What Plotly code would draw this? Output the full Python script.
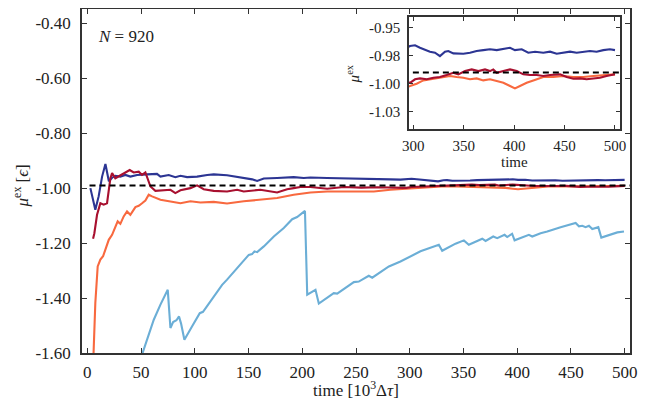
import plotly.graph_objects as go

# ---------------- data ----------------
blue_x = [2.8, 7.4, 10.5, 13.7, 16.8, 20.0, 23, 26, 30.7, 35.4, 40, 46.3, 55.5, 64.8, 68, 71, 75.7, 81.9, 86.6,
          92.8, 102.1, 111.5, 117.6, 130, 145.5, 153.4, 158, 164.2, 176.6, 192, 201.4, 207.6, 223.2, 238.6, 251,
          266.6, 282, 291.4,
          296.7, 301.7, 306.6, 311.6, 316.5, 321.5, 326.4, 331.4, 334.7, 339.7, 344.6, 349.6, 356.2, 362.8, 369.4,
          376, 382.7, 389.3, 395.9, 400.8, 407.5, 414, 420.7, 428.9, 435.6, 442.2, 448.8, 455.4, 462, 468.6, 475.2,
          481.8, 488.4, 495, 500]
blue_y = [-1.0, -1.079, -1.03, -0.958, -0.912, -0.975, -0.962, -0.955, -0.958, -0.952, -0.958, -0.952, -0.950,
          -0.948, -0.958, -0.955, -0.952, -0.960, -0.955, -0.960, -0.958, -0.952, -0.950, -0.953, -0.962, -0.968,
          -0.974, -0.965, -0.963, -0.960, -0.963, -0.961, -0.963, -0.965, -0.965, -0.966, -0.968, -0.969,
          -0.9663, -0.9657, -0.9679, -0.970, -0.9714, -0.9723, -0.9753, -0.9714, -0.9708, -0.9729, -0.9732, -0.9732,
          -0.9723, -0.9708, -0.970, -0.9693, -0.970, -0.9687, -0.9679, -0.970, -0.9693, -0.9723, -0.9714, -0.9723,
          -0.9714, -0.9732, -0.9723, -0.9714, -0.9723, -0.9714, -0.9708, -0.9714, -0.970, -0.9693, -0.970]

red_x = [5.3, 6.5, 9, 12.1, 15.2, 18.3, 21.4, 23, 26, 30.7, 35.4, 39.4, 43.1, 47.8, 50.9, 54, 58.7, 63.3, 69.6,
         77.3, 81.9, 86.6, 95.9, 102.1, 108.3, 117.6, 130, 139.4, 145.5, 161, 176.6, 185.9, 192, 198.3, 207.6,
         223.2, 238.6, 255, 270, 285,
         296.7, 301.7, 306.6, 313.3, 319.9, 326.4, 333, 339.7, 344.6, 351.3, 357.9, 364.5, 371.1, 376, 379.3,
         382.7, 389.3, 395.9, 402.5, 409.1, 415.7, 422.4, 428.9, 435.6, 445.5, 452.1, 458.7, 465.3, 471.9, 478.5,
         485.1, 491.7, 500]
red_y = [-1.184, -1.164, -1.097, -1.055, -1.06, -1.055, -0.964, -0.945, -0.964, -0.955, -0.943, -0.934, -0.943,
         -0.94, -0.952, -0.943, -0.994, -1.010, -1.008, -1.006, -1.018, -1.008, -1.0, -0.990, -1.004, -1.010,
         -1.012, -1.006, -1.012, -1.006, -1.016, -1.004, -1.0, -0.996, -0.996, -1.002, -0.996, -0.998, -0.997,
         -0.997,
         -0.9991, -0.996, -0.9952, -0.996, -0.9946, -0.994, -0.9922, -0.9902, -0.9916, -0.9887, -0.9872, -0.9887,
         -0.9872, -0.9887, -0.9872, -0.9902, -0.9887, -0.9872, -0.9887, -0.9916, -0.9922, -0.9922, -0.9931,
         -0.9922, -0.9916, -0.994, -0.9955, -0.9952, -0.996, -0.9952, -0.9946, -0.9931, -0.9916]

orange_x = [5.3, 7.4, 9.6, 12.1, 14.6, 16.8, 19.9, 23, 26.1, 28.2, 30.7, 33.8, 36.9, 40, 44.7, 47.8, 50.9, 54,
            57.1, 60.2, 68, 77.3, 86.6, 95.9, 105.2, 117.6, 130, 145.5, 161, 176.6, 192, 207.6, 223.2, 238.6, 251,
            266.6, 282,
            296.7, 303.3, 309.9, 316.5, 323.2, 329.8, 336.4, 343, 349.6, 356.2, 362.8, 369.4, 376, 382.7, 389.3,
            395.9, 400.8, 405.8, 412.4, 419, 428.9, 438.8, 448.8, 458.7, 468.6, 478.5, 488.4, 500]
orange_y = [-1.65, -1.418, -1.285, -1.26, -1.248, -1.224, -1.188, -1.17, -1.14, -1.121, -1.13, -1.103, -1.085,
            -1.097, -1.069, -1.064, -1.055, -1.045, -1.024, -1.03, -1.042, -1.048, -1.055, -1.048, -1.052, -1.050,
            -1.056, -1.048, -1.042, -1.036, -1.024, -1.016, -1.012, -1.012, -1.014, -1.012, -1.006,
            -1.002, -1.000, -0.997, -0.996, -0.9952, -0.994, -0.9931, -0.994, -0.9946, -0.996, -0.9952, -0.997,
            -0.996, -0.9976, -0.9991, -1.002, -1.0041, -1.002, -0.9991, -0.997, -0.994, -0.994, -0.9931, -0.994,
            -0.994, -0.9931, -0.9922, -0.9916]

light_x = [50.5, 55.5, 61.8, 68, 74.8, 77.3, 79.8, 82.9, 85.3, 87.2, 90.3, 97.5, 104.6, 107.6, 114.5, 125.4, 130,
           139.4, 150.2, 153.3, 155.5, 158, 164.2, 173.5, 182.8, 190.6, 195.2, 202.5, 204.6, 212.3, 215.4, 229.3,
           232.5, 248, 252.6, 261.9, 265.1, 280.6, 291.4, 310, 327.1, 330.2, 342.6, 350.4, 355, 367.5, 370.6, 377.7,
           381.4, 388.3, 390.7, 395.3, 397.6, 410.9, 414, 421.8, 428, 440.4, 449.7, 454.4, 457.5, 460.6, 463.7,
           466.8, 469.9, 475.5, 478.3, 488.5, 493.2, 499.4]
light_y = [-1.61, -1.552, -1.479, -1.424, -1.37, -1.509, -1.487, -1.481, -1.467, -1.493, -1.552, -1.503, -1.455,
           -1.45, -1.412, -1.352, -1.333, -1.291, -1.243, -1.24, -1.23, -1.233, -1.212, -1.176, -1.145, -1.113,
           -1.105, -1.083, -1.388, -1.37, -1.42, -1.382, -1.384, -1.342, -1.34, -1.319, -1.326, -1.285, -1.267,
           -1.23, -1.206, -1.228, -1.202, -1.19, -1.206, -1.184, -1.192, -1.176, -1.182, -1.17, -1.178, -1.166,
           -1.19, -1.17, -1.176, -1.164, -1.158, -1.142, -1.131, -1.127, -1.139, -1.137, -1.142, -1.137, -1.149,
           -1.142, -1.18, -1.166, -1.161, -1.158]

ref_x = [2, 510]
ref_y = [-0.99, -0.99]

main_xticks = [0, 50, 100, 150, 200, 250, 300, 350, 400, 450, 500]
main_yticks = [-0.4, -0.6, -0.8, -1.0, -1.2, -1.4, -1.6]
main_yticktext = ["-0.40", "-0.60", "-0.80", "-1.00", "-1.20", "-1.40", "-1.60"]
inset_xticks = [300, 350, 400, 450, 500]
inset_yticks = [-0.95, -0.975, -1.0, -1.025]
inset_yticktext = ["-0.95", "-0.98", "-1.00", "-1.03"]

C_BLUE = "#2c3593"
C_RED = "#a8102f"
C_ORANGE = "#f8693f"
C_LIGHT = "#6baed6"
FONT = "Liberation Serif"
AX = "#333333"

fig = go.Figure()
series = [(light_x, light_y, C_LIGHT), (orange_x, orange_y, C_ORANGE),
          (blue_x, blue_y, C_BLUE), (red_x, red_y, C_RED)]
for xa, ya in [("x", "y"), ("x2", "y2")]:
    for sx, sy, c in series:
        fig.add_trace(go.Scatter(x=sx, y=sy, mode="lines", line=dict(color=c, width=2.1),
                                 xaxis=xa, yaxis=ya, showlegend=False, hoverinfo="skip"))
    fig.add_trace(go.Scatter(x=ref_x, y=ref_y, mode="lines",
                             line=dict(color="black", width=2, dash="6px,4px"),
                             xaxis=xa, yaxis=ya, showlegend=False, hoverinfo="skip"))

axis_common = dict(showgrid=False, zeroline=False, showline=True, linecolor=AX, linewidth=1.5,
                   mirror="ticks", ticks="inside", tickcolor=AX, tickwidth=1.2, automargin=False)

# The page body has an 8px default margin, so the figure is 8px smaller than the window.
fig.update_layout(
    width=652, height=392,
    margin=dict(l=74, r=30, t=1, b=47),
    paper_bgcolor="white", plot_bgcolor="white",
    font=dict(family=FONT, size=17, color="#222222"),
    xaxis=dict(domain=[0, 1], range=[-5, 505], tickvals=main_xticks, ticklen=5,
               ticklabelstandoff=3, **axis_common),
    yaxis=dict(domain=[0, 1], range=[-1.6, -0.348], tickvals=main_yticks, ticktext=main_yticktext, ticklen=5,
               ticklabelstandoff=6, **axis_common),
    xaxis2=dict(domain=[0.5967, 0.9818], anchor="y2", range=[295.7, 505], tickvals=inset_xticks, ticklen=4,
                tickfont=dict(size=15), ticklabelstandoff=2, **axis_common),
    yaxis2=dict(domain=[0.6512, 0.9767], anchor="x2", range=[-1.0403, -0.9405], tickvals=inset_yticks,
                ticktext=inset_yticktext, ticklen=4, tickfont=dict(size=15),
                ticklabelstandoff=4, **axis_common),
    annotations=[
        dict(text="<i>N</i> = 920", xref="paper", yref="paper", x=0.025, y=0.92,
             xanchor="left", yanchor="middle", showarrow=False, font=dict(size=17)),
        dict(text="time [10<sup>3</sup>Δ<i>τ</i>]", xref="paper", yref="paper", x=0.5, y=-0.106,
             xanchor="center", yanchor="middle", showarrow=False, font=dict(size=17)),
        dict(text="<i>μ</i><sup>ex</sup> [<i>ϵ</i>]", xref="paper", yref="paper", x=-0.112, y=0.486,
             xanchor="center", yanchor="middle", textangle=-90, showarrow=False, font=dict(size=17)),
        dict(text="time", xref="paper", yref="paper", x=0.790, y=0.555,
             xanchor="center", yanchor="middle", showarrow=False, font=dict(size=15)),
        dict(text="<i>μ</i><sup>ex</sup>", xref="paper", yref="paper", x=0.494, y=0.812,
             xanchor="center", yanchor="middle", textangle=-90, showarrow=False, font=dict(size=15)),
    ],
)

fig.write_html("out.html")
